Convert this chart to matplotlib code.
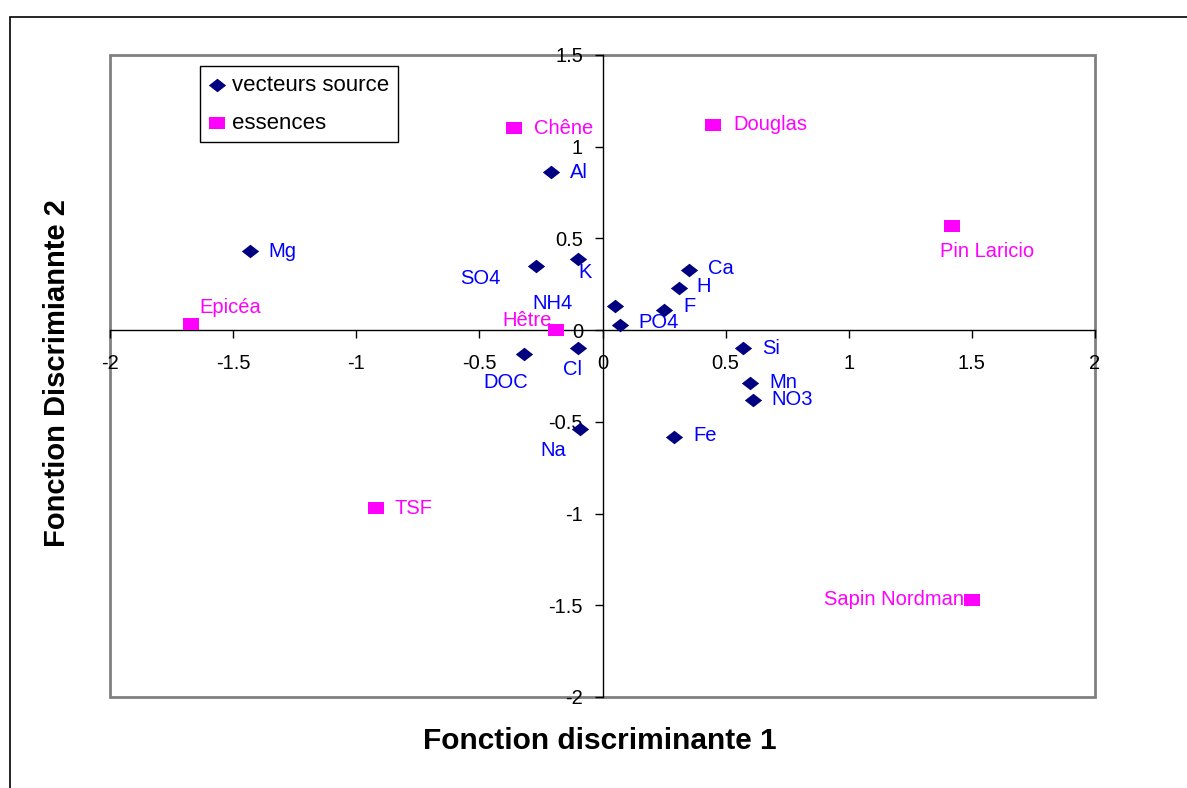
import matplotlib
matplotlib.use("Agg")
import matplotlib.pyplot as plt
from matplotlib.patches import Rectangle

plt.rcParams['font.family'] = ['Liberation Sans', 'DejaVu Sans']

# vecteurs source (diamonds)
source_names = ['Mg', 'Al', 'K', 'SO4', 'NH4', 'PO4', 'F', 'H', 'Ca',
                'Si', 'Mn', 'NO3', 'Fe', 'Na', 'Cl', 'DOC']
source_x = [-1.43, -0.21, -0.10, -0.27, 0.05, 0.07, 0.25, 0.31, 0.35,
            0.57, 0.60, 0.61, 0.29, -0.09, -0.10, -0.32]
source_y = [0.43, 0.86, 0.39, 0.35, 0.13, 0.03, 0.11, 0.23, 0.33,
            -0.10, -0.29, -0.38, -0.58, -0.54, -0.10, -0.13]

# essences (squares)
ess_names = ['Chêne', 'Douglas', 'Pin Laricio', 'Epicéa', 'Hêtre', 'TSF', 'Sapin Nordmann']
ess_x = [-0.36, 0.45, 1.42, -1.67, -0.19, -0.92, 1.50]
ess_y = [1.10, 1.12, 0.57, 0.035, 0.0, -0.97, -1.47]

x_ticks = [-2, -1.5, -1, -0.5, 0, 0.5, 1, 1.5, 2]
y_ticks = [-2, -1.5, -1, -0.5, 0, 0.5, 1, 1.5]

# label offsets in pixels (left edge of text, vertical centre)
src_off = {'Mg': (18, 0), 'Al': (19, 0), 'K': (1, -14), 'SO4': (-76, -13),
           'NH4': (-82, 3), 'PO4': (19, 2), 'F': (19, 3), 'H': (18, 1),
           'Ca': (19, 1), 'Si': (19, 0), 'Mn': (19, 1), 'NO3': (19, 0),
           'Fe': (19, 1), 'Na': (-40, -21), 'Cl': (-15, -21), 'DOC': (-40, -29)}
ess_off = {'Chêne': (20, 0), 'Douglas': (20, 0), 'Pin Laricio': (-12, -26),
           'Epicéa': (8, 16), 'Hêtre': (-53, 10), 'TSF': (19, 0),
           'Sapin Nordmann': (-148, 0)}

W, H = 1187, 788
fig = plt.figure(figsize=(W / 100, H / 100), dpi=100)

# outer chart frame
fig.patches.append(Rectangle((10 / W, -0.1), 1.2, 1.1 - 17 / H, transform=fig.transFigure,
                             fill=False, edgecolor='black', lw=1.2))

ax = fig.add_axes([110 / W, 1 - 697 / H, 985 / W, 642 / H])
ax.set_xlim(-2, 2)
ax.set_ylim(-2, 1.5)

# wide-ish markers like the stretched excel picture
diamond = [(-1.28, 0), (0, -1), (1.28, 0), (0, 1)]
square = [(-1.33, -1), (1.33, -1), (1.33, 1), (-1.33, 1)]

ax.scatter(source_x, source_y, marker=diamond, s=12.5 ** 2, color='#000080',
           linewidths=0, zorder=4, label='vecteurs source')
ax.scatter(ess_x, ess_y, marker=square, s=11 ** 2, color='#FF00FF',
           linewidths=0, zorder=5, label='essences')

for n, x, y in zip(source_names, source_x, source_y):
    ax.annotate(n, (x, y), xytext=src_off[n], textcoords='offset pixels',
                ha='left', va='center', color='#0000FF', fontsize=14.5, zorder=3)
for n, x, y in zip(ess_names, ess_x, ess_y):
    ax.annotate(n, (x, y), xytext=ess_off[n], textcoords='offset pixels',
                ha='left', va='center', color='#FF00FF', fontsize=14.5, zorder=3)

# axes crossing at zero
for s in ['top', 'right']:
    ax.spines[s].set_visible(False)
ax.spines['left'].set_position('zero')
ax.spines['bottom'].set_position('zero')
ax.spines['left'].set_linewidth(1)
ax.spines['bottom'].set_linewidth(1)
ax.set_xticks(x_ticks)
ax.set_yticks(y_ticks)
ax.set_xticklabels([f"{v:g}" for v in x_ticks])
ax.set_yticklabels([f"{v:g}" for v in y_ticks])
ax.tick_params(axis='x', direction='out', length=6, width=1, pad=11, labelsize=14.5)
ax.tick_params(axis='y', direction='out', length=6, width=1, pad=8, labelsize=14.5)

# grey plot-area border
ax.add_patch(Rectangle((0, 0), 1, 1, transform=ax.transAxes, fill=False,
                       edgecolor='#808080', lw=2, clip_on=False, zorder=1))

leg = ax.legend(loc='upper left', bbox_to_anchor=(200 / W, 1 - 66 / H),
                bbox_transform=fig.transFigure, borderaxespad=0, fontsize=16,
                fancybox=False, edgecolor='black', framealpha=1,
                handlelength=0.7, handletextpad=0.35, labelspacing=0.75,
                borderpad=0.4, scatterpoints=1)
leg.get_frame().set_linewidth(1)

fig.text(600 / W, 1 - 741 / H, 'Fonction discriminante 1', ha='center', va='center',
         fontsize=21.5, fontweight='bold')
fig.text(57 / W, 1 - 373 / H, 'Fonction Discrimiannte 2', ha='center', va='center',
         rotation=90, fontsize=21, fontweight='bold')

fig.savefig('out.png', dpi=100)
